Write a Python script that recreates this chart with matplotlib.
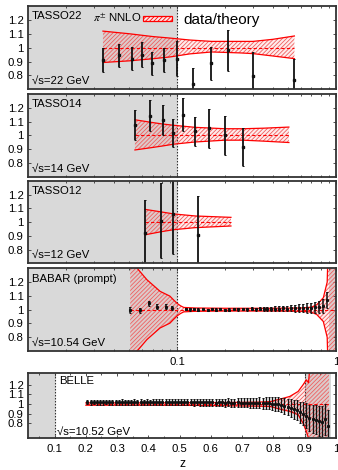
import numpy as np
import matplotlib
matplotlib.use('Agg')
import matplotlib.pyplot as plt
from matplotlib.patches import Rectangle

plt.rcParams['font.family'] = ['Liberation Sans', 'DejaVu Sans']
plt.rcParams['mathtext.fontset'] = 'stix'
plt.rcParams['hatch.linewidth'] = 0.6

# ---------------- data ----------------
# TASSO 22 GeV
z22 = [0.0341, 0.0432, 0.0521, 0.0603, 0.0693, 0.0832, 0.1, 0.1266, 0.1636, 0.210, 0.299, 0.547]
v22 = [0.909, 0.945, 0.921, 0.950, 0.886, 0.909, 0.920, 0.736, 0.886, 0.980, 0.798, 0.766]
e22 = [0.085, 0.083, 0.082, 0.090, 0.085, 0.086, 0.125, 0.115, 0.118, 0.150, 0.170, 0.155]
bz22 = [0.0341, 0.05, 0.07, 0.09, 0.12, 0.165, 0.25, 0.3, 0.4, 0.547]
bu22 = [1.119, 1.100, 1.080, 1.069, 1.055, 1.045, 1.045, 1.045, 1.060, 1.084]
bl22 = [0.893, 0.905, 0.920, 0.933, 0.955, 0.969, 0.962, 0.957, 0.940, 0.921]

# TASSO 14 GeV
z14 = [0.0542, 0.0670, 0.0813, 0.0948, 0.1086, 0.1298, 0.1583, 0.2004, 0.259]
v14 = [1.073, 1.144, 1.113, 1.019, 1.148, 1.030, 1.050, 1.000, 0.913]
e14 = [0.110, 0.110, 0.108, 0.100, 0.120, 0.105, 0.140, 0.143, 0.137]
bz14 = [0.0542, 0.068, 0.08, 0.095, 0.13, 0.2, 0.26, 0.35, 0.505]
bu14 = [1.113, 1.095, 1.083, 1.073, 1.058, 1.048, 1.048, 1.052, 1.060]
bl14 = [0.894, 0.910, 0.922, 0.936, 0.952, 0.965, 0.965, 0.958, 0.948]

# TASSO 12 GeV
z12 = [0.0629, 0.0790, 0.0948, 0.136]
v12 = [0.922, 1.012, 1.058, 0.903]
e12 = [0.236, 0.272, 0.290, 0.290]
bz12 = [0.0629, 0.079, 0.095, 0.13, 0.218]
bu12 = [1.093, 1.075, 1.060, 1.045, 1.035]
bl12 = [0.908, 0.930, 0.945, 0.960, 0.972]

# BABAR prompt 10.54 GeV
zBB = [0.0506, 0.058, 0.0667, 0.0748, 0.0849, 0.093, 0.1134, 0.1207, 0.1279, 0.1361,
       0.1463, 0.156, 0.1653, 0.1759, 0.1864, 0.2004, 0.2133, 0.2283, 0.2429, 0.259,
       0.2768, 0.2951, 0.3139, 0.3327, 0.3526, 0.3699, 0.3902, 0.4134, 0.4381, 0.4642,
       0.4918, 0.5212, 0.5522, 0.5851, 0.620, 0.6569, 0.6961, 0.7376, 0.7815, 0.8281,
       0.8774]
vBB = [1.000, 0.995, 1.045, 1.020, 1.022, 1.010, 1.004, 1.002, 1.003, 1.001,
       1.002, 1.000, 1.003, 1.001, 1.002, 1.000, 1.001, 1.003, 1.002, 1.004,
       1.003, 1.005, 1.004, 1.006, 1.005, 1.007, 1.006, 1.008, 1.007, 1.009,
       1.008, 1.010, 1.009, 1.011, 1.010, 1.012, 1.011, 1.016, 1.020, 1.028,
       1.070]
eBB = [0.022, 0.020, 0.020, 0.018, 0.016, 0.014, 0.010, 0.009, 0.008, 0.008,
       0.008, 0.008, 0.008, 0.008, 0.008, 0.008, 0.009, 0.009, 0.009, 0.010,
       0.010, 0.011, 0.011, 0.012, 0.013, 0.014, 0.015, 0.016, 0.018, 0.019,
       0.021, 0.023, 0.025, 0.027, 0.030, 0.033, 0.036, 0.040, 0.045, 0.052,
       0.058]
bzBB = [0.0506, 0.056, 0.0645, 0.078, 0.09, 0.095, 0.1, 0.105, 0.11, 0.13, 0.2, 0.4,
        0.6, 0.7, 0.756, 0.832, 0.88, 0.895, 1.0]
buBB = [1.50, 1.30, 1.217, 1.133, 1.098, 1.070, 1.045, 1.028, 1.016, 1.012, 1.010, 1.010,
        1.012, 1.018, 1.035, 1.086, 1.200, 1.500, 1.500]
blBB = [0.50, 0.70, 0.783, 0.867, 0.902, 0.930, 0.955, 0.972, 0.984, 0.988, 0.990, 0.990,
        0.988, 0.982, 0.965, 0.914, 0.800, 0.500, 0.500]

# BELLE 10.52 GeV
zBL = [0.205, 0.215, 0.225, 0.235, 0.245, 0.255, 0.265, 0.275, 0.285, 0.295,
       0.305, 0.315, 0.325, 0.335, 0.345, 0.355, 0.365, 0.375, 0.385, 0.395,
       0.405, 0.415, 0.425, 0.435, 0.445, 0.455, 0.465, 0.475, 0.485, 0.495,
       0.505, 0.515, 0.525, 0.535, 0.545, 0.555, 0.565, 0.575, 0.585, 0.595,
       0.605, 0.615, 0.625, 0.635, 0.645, 0.655, 0.665, 0.675, 0.685, 0.695,
       0.705, 0.715, 0.725, 0.735, 0.745, 0.755, 0.765, 0.775, 0.785, 0.795,
       0.805, 0.815, 0.825, 0.835, 0.845, 0.855, 0.865, 0.875, 0.885, 0.895,
       0.905, 0.915, 0.925, 0.935, 0.945, 0.955, 0.965, 0.975]
vBL = [1.020, 1.018, 1.021, 1.019, 1.020, 1.018, 1.021, 1.019, 1.020, 1.018,
       1.019, 1.021, 1.018, 1.020, 1.019, 1.021, 1.018, 1.020, 1.019, 1.021,
       1.018, 1.020, 1.019, 1.021, 1.018, 1.020, 1.019, 1.017, 1.020, 1.018,
       1.019, 1.017, 1.020, 1.018, 1.016, 1.019, 1.017, 1.018, 1.016, 1.019,
       1.017, 1.015, 1.018, 1.016, 1.014, 1.017, 1.015, 1.013, 1.016, 1.014,
       1.012, 1.015, 1.011, 1.013, 1.010, 1.012, 1.008, 1.010, 1.006, 1.004,
       1.000, 0.996, 0.990, 0.982, 0.972, 0.960, 0.947, 0.934, 0.913, 0.900,
       0.880, 0.856, 0.845, 0.838, 0.830, 0.820, 0.845, 0.770]
eBL = [0.024, 0.024, 0.024, 0.024, 0.025, 0.025, 0.025, 0.025, 0.025, 0.025,
       0.026, 0.026, 0.026, 0.026, 0.026, 0.027, 0.027, 0.027, 0.027, 0.027,
       0.028, 0.028, 0.028, 0.028, 0.029, 0.029, 0.029, 0.030, 0.030, 0.030,
       0.031, 0.031, 0.032, 0.032, 0.033, 0.033, 0.034, 0.034, 0.035, 0.035,
       0.036, 0.037, 0.038, 0.039, 0.040, 0.041, 0.042, 0.043, 0.044, 0.045,
       0.046, 0.048, 0.050, 0.052, 0.054, 0.056, 0.058, 0.060, 0.062, 0.065,
       0.068, 0.072, 0.076, 0.080, 0.085, 0.090, 0.096, 0.103, 0.110, 0.120,
       0.130, 0.138, 0.145, 0.150, 0.155, 0.158, 0.160, 0.165]
bzBL = [0.2, 0.4, 0.6, 0.7, 0.75, 0.79, 0.82, 0.852, 0.879, 0.895, 0.905, 0.912, 0.917, 0.978]
buBL = [1.012, 1.012, 1.015, 1.018, 1.020, 1.025, 1.050, 1.078, 1.130, 1.200, 1.250, 1.220, 1.400, 1.400]
blBL = [0.988, 0.988, 0.985, 0.980, 0.978, 0.975, 0.948, 0.924, 0.890, 0.800, 0.720, 0.650, 0.600, 0.600]

yticks = [0.8, 0.9, 1.0, 1.1, 1.2]
yticklabels = ['0.8', '0.9', '1', '1.1', '1.2']
xticks_log = [0.1, 1.0]
xticklabels_log = ['0.1', '1']
xticks_lin = [0.1, 0.2, 0.3, 0.4, 0.5, 0.6, 0.7, 0.8, 0.9, 1.0]
xticklabels_lin = ['0.1', '0.2', '0.3', '0.4', '0.5', '0.6', '0.7', '0.8', '0.9', '1']

# ---------------- style ----------------
RED = '#ff0000'
HATCH = '#ee6060'
FACE = (1.0, 0.3, 0.3, 0.10)
GRAY = '#d9d9d9'
FRAME = '#333333'
XMIN_LOG, XMIN_LIN = 0.0115, 0.015
FS = 8.2

fig = plt.figure(figsize=(3.38, 4.70), dpi=100)
L, W = 28 / 338, 308 / 338


def pos(top, bot):
    return [L, 1 - bot / 470, W, (bot - top) / 470]


def band(ax, z, up, lo):
    ax.fill_between(z, lo, up, facecolor=FACE, edgecolor='none', linewidth=0, zorder=2)
    ax.fill_between(z, lo, up, facecolor='none', edgecolor=HATCH, hatch='////////',
                    linewidth=0, zorder=2)
    ax.plot(z, up, color=RED, lw=0.9, zorder=3)
    ax.plot(z, lo, color=RED, lw=0.9, zorder=3)
    ax.plot([z[0], z[-1]], [1, 1], color=RED, lw=0.8, ls=(0, (3, 2)), zorder=3)


def data(ax, z, v, e, elw=1.3, ms=1.5, cap=0.8):
    ax.errorbar(z, v, yerr=e, fmt='s', ms=ms, color='#111111', mec='#111111',
                elinewidth=elw, capsize=cap, capthick=0.7, zorder=4)


def style(ax, ylim):
    ax.set_ylim(*ylim)
    ax.set_yticks(yticks)
    ax.set_yticklabels(yticklabels)
    for s in ax.spines.values():
        s.set_linewidth(1.3)
        s.set_color(FRAME)
        s.set_zorder(6)
    ax.tick_params(which='both', direction='in', top=True, right=True,
                   width=0.6, color=FRAME, labelsize=FS)
    ax.tick_params(which='major', length=2.5)
    ax.tick_params(which='minor', length=1.5)
    ax.tick_params(axis='y', pad=3.0)
    ax.tick_params(axis='x', pad=4.0)


def label(ax, top, bottom, x=0.013):
    ax.text(x, 0.875, top, transform=ax.transAxes, fontsize=FS, ha='left', va='center', zorder=7)
    ax.text(x, 0.10, bottom, transform=ax.transAxes, fontsize=FS, ha='left', va='center', zorder=7)


panels = [(6, 89.3), (94, 176.7), (181, 263.3), (268.3, 351)]
sets = [
    ('TASSO22', '√s=22 GeV', z22, v22, e22, bz22, bu22, bl22),
    ('TASSO14', '√s=14 GeV', z14, v14, e14, bz14, bu14, bl14),
    ('TASSO12', '√s=12 GeV', z12, v12, e12, bz12, bu12, bl12),
    ('BABAR (prompt)', '√s=10.54 GeV', zBB, vBB, eBB, bzBB, buBB, blBB),
]

for i, ((top, bot), (nm, sq, z, v, e, bz, bu, bl)) in enumerate(zip(panels, sets)):
    ax = fig.add_axes(pos(top, bot))
    ax.set_xscale('log')
    ax.set_xlim(XMIN_LOG, 1.0)
    ax.axvspan(XMIN_LOG, 0.1, color=GRAY, lw=0, zorder=0)
    if i == 3:
        ax.axvspan(0.9, 1.0, color=GRAY, lw=0, zorder=0)
    ax.axvline(0.1, color=FRAME, lw=0.8, ls=(0, (1.5, 1.2)), zorder=1)
    band(ax, bz, bu, bl)
    if i == 3:
        data(ax, z, v, e, elw=1.1, ms=1.2, cap=0.5)
    else:
        data(ax, z, v, e)
    style(ax, (0.7, 1.3))
    ax.set_xticks(xticks_log)
    if i == 3:
        ax.set_xticklabels(xticklabels_log)
    else:
        ax.set_xticklabels([])
        ax.tick_params(axis='x', which='minor', labelbottom=False)
    label(ax, nm, sq)
    if i == 0:
        ax.text(0.211, 0.852, r'$\pi^{\pm}$ NNLO', transform=ax.transAxes,
                fontsize=FS, ha='left', va='center', zorder=7)
        ax.add_patch(Rectangle((0.374, 0.823), 0.093, 0.06, transform=ax.transAxes,
                               facecolor='#fde6e6', edgecolor=RED, hatch='////////', lw=0.9, zorder=7))
        ax.text(0.503, 0.835, 'data/theory', transform=ax.transAxes,
                fontsize=11, ha='left', va='center', zorder=7)

# BELLE panel (linear)
ax = fig.add_axes(pos(373, 438))
ax.set_xlim(XMIN_LIN, 1.0)
ax.axvspan(XMIN_LIN, 0.1, color=GRAY, lw=0, zorder=0)
ax.axvspan(0.9, 0.985, color=GRAY, lw=0, zorder=0)
ax.axvline(0.1, color=FRAME, lw=0.8, ls=(0, (1.5, 1.2)), zorder=1)
ax.axvline(0.9, color=FRAME, lw=0.8, ls=(0, (1.5, 1.2)), zorder=1)
band(ax, bzBL, buBL, blBL)
data(ax, zBL, vBL, eBL, elw=1.0, ms=1.2, cap=0.5)
style(ax, (0.65, 1.32))
ax.set_xticks(xticks_lin)
ax.set_xticklabels(xticklabels_lin)
ax.set_xticks([0.05 + 0.1 * k for k in range(10)], minor=True)
ax.text(0.1006, 0.87, 'BELLE', transform=ax.transAxes, fontsize=FS, ha='left', va='center', zorder=7)
ax.text(0.094, 0.10, '√s=10.52 GeV', transform=ax.transAxes, fontsize=FS, ha='left', va='center', zorder=7)
ax.set_xlabel('z', fontsize=FS + 0.5, labelpad=3)

fig.savefig('out.png', dpi=100)
